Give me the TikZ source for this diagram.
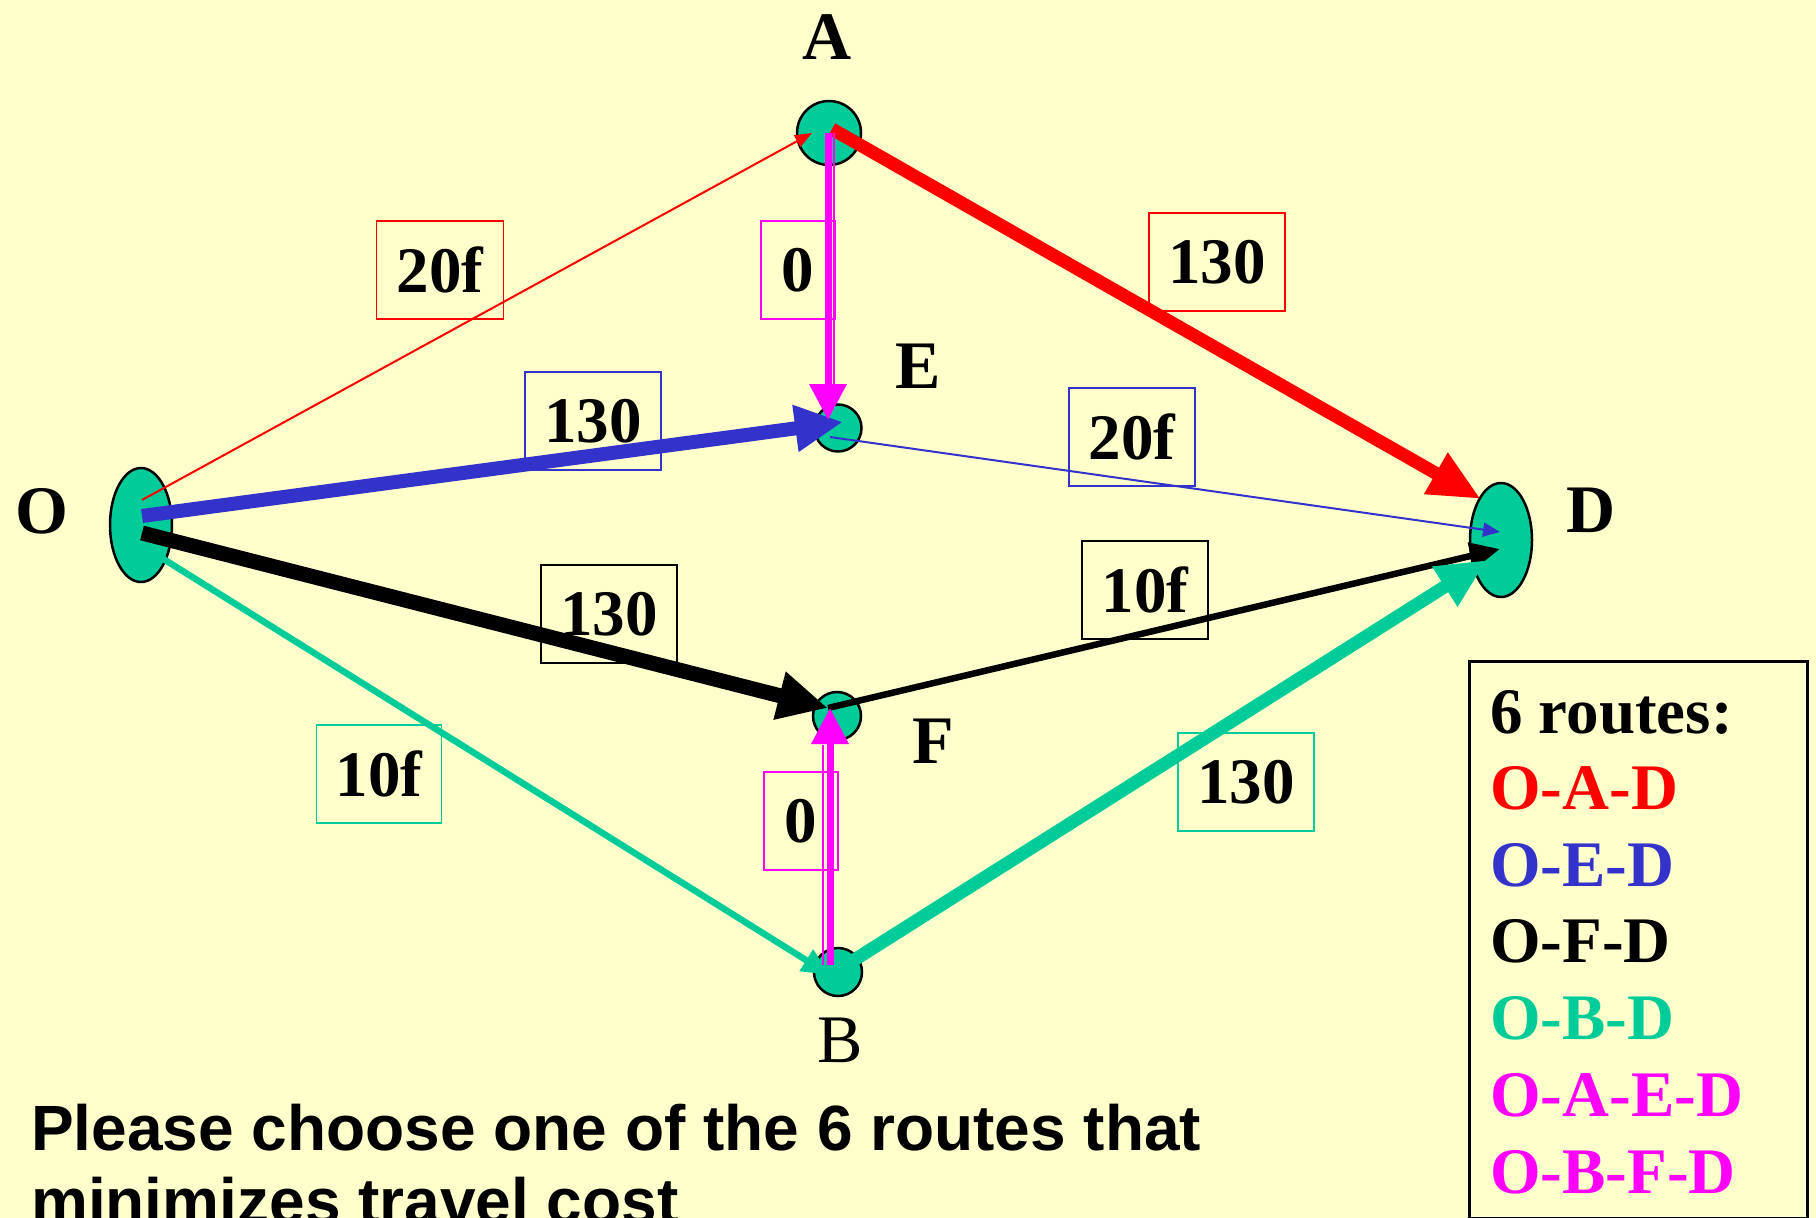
\documentclass[tikz,border=0pt]{standalone}
\usepackage{fontspec}
\setmainfont{Liberation Serif}
\newfontfamily\arialf{Liberation Sans}
\usetikzlibrary{arrows.meta,shapes.geometric,calc}
\definecolor{bgc}{HTML}{FFFFCC}
\definecolor{tealc}{HTML}{00CC99}
\definecolor{bluec}{HTML}{3333CC}
\definecolor{magc}{HTML}{FF00FF}
\definecolor{redc}{HTML}{FF0000}
\begin{document}
\begin{tikzpicture}[x=1pt,y=-1pt,
  vtx/.style={circle, draw=black, line width=2.5pt, fill=tealc, inner sep=0pt},
  vtxe/.style={ellipse, draw=black, line width=2.5pt, fill=tealc, inner sep=0pt, minimum width=62pt, minimum height=114pt},
  nlab/.style={font=\fontsize{68}{80}\selectfont\bfseries, inner sep=0pt},
  elab/.style={draw=#1, line width=1.8pt, minimum height=98pt, inner sep=0pt, font=\fontsize{65}{76}\selectfont\bfseries},
  leg/.style={anchor=base west, inner sep=0pt, font=\fontsize{65}{76}\selectfont\bfseries},
  btxt/.style={anchor=base west, inner sep=0pt, font=\arialf\fontsize{64}{73}\selectfont\bfseries}
]
\useasboundingbox (0,0) rectangle (1816,1218);
\fill[bgc] (0,0) rectangle (1816,1218);

% vertices
\node[vtxe] (O) at (141,525) {};
\node[vtxe] (D) at (1501,540) {};
\node[vtx, minimum size=64pt] (A) at (829,133) {};
\node[vtx, minimum size=47pt] (E) at (838,428) {};
\node[vtx, minimum size=48pt] (F) at (837,716) {};
\node[vtx, minimum size=48pt] (B) at (838,972) {};

% vertex labels
\node[nlab] (lA) at (827,37) {A};
\node[nlab] (lE) at (918,366) {E};
\node[nlab] (lO) at (42,511) {O};
\node[nlab] (lD) at (1591,510) {D};
\node[nlab] (lF) at (933,741) {F};
\node[inner sep=0pt, font=\fontsize{68}{80}\selectfont] (lB) at (840,1040) {B};

% edge cost boxes
\node[elab=redc, minimum width=127pt] (c1) at (440,270) {20f};
\node[elab=magc, minimum width=74pt] (c2) at (798,270) {0};
\node[elab=redc, minimum width=136pt] (c3) at (1217,262) {130};
\node[elab=bluec, minimum width=136pt] (c4) at (593,421) {130};
\node[elab=bluec, minimum width=126pt] (c5) at (1132,437) {20f};
\node[elab=black, minimum width=136pt] (c6) at (609,614) {130};
\node[elab=black, minimum width=126pt] (c7) at (1145,590) {10f};
\node[elab=tealc, minimum width=125pt] (c8) at (379,774) {10f};
\node[elab=magc, minimum width=74pt] (c9) at (801,821) {0};
\node[elab=tealc, minimum width=136pt] (c10) at (1246,782) {130};

% edges
\draw[line width=2pt, redc, -{Triangle[length=17pt,width=13pt]}] ($(O)+(1,-25)$) -- ($(A)+(-17,0)$);
\draw[line width=13pt, redc, -{Triangle[length=52pt,width=44pt]}] ($(A)+(3,-4)$) -- ($(D)+(-20,-41)$);
\draw[line width=14pt, bluec, -{Triangle[length=48pt,width=44pt]}] ($(O)+(1,-9)$) -- ($(E)+(5,-6)$);
\draw[line width=2pt, bluec, -{Triangle[length=17pt,width=14pt]}] ($(E)+(-8,9)$) -- ($(D)+(-1,-8)$);
\draw[line width=6.5pt, black, -{Triangle[length=30pt,width=26pt]}] ($(F)+(-9,-8)$) -- ($(D)+(-1,9)$);
\draw[line width=15pt, black, -{Triangle[length=50pt,width=46pt]}] ($(O)+(1,8)$) -- ($(F)+(-9,-8)$);
\draw[line width=6.5pt, tealc, -{Triangle[length=28pt,width=24pt]}] ($(O)+(0,20)$) -- ($(B)+(-8,3)$);
\draw[line width=13pt, tealc, -{Triangle[length=50pt,width=44pt]}] ($(B)+(5,-5)$) -- ($(D)+(-14,20)$);
% magenta double lines
\draw[line width=7pt, magc, -{Triangle[length=36pt,width=36pt]}] ($(A)+(-1,0)$) -- ($(E)+(-10,-8)$);
\draw[line width=2pt, magc] ($(A)+(5,0)$) -- ($(E)+(-4,-43)$);
\draw[line width=7pt, magc, -{Triangle[length=36pt,width=36pt]}] ($(B)+(-8,-7)$) -- ($(F)+(-7,-8)$);
\draw[line width=2pt, magc] ($(B)+(-15,-7)$) -- ($(F)+(-14,29)$);

% legend
\node[draw=black, line width=2.5pt, fill=bgc, anchor=north west, minimum width=338pt, minimum height=557pt, inner sep=0pt] (legend) at (1468,660) {};
\node[leg] (g0) at (1490,733) {6 routes:};
\node[leg, text=redc] (g1) at (1490,809) {O-A-D};
\node[leg, text=bluec] (g2) at (1490,886) {O-E-D};
\node[leg, text=black] (g3) at (1490,962) {O-F-D};
\node[leg, text=tealc] (g4) at (1490,1039) {O-B-D};
\node[leg, text=magc] (g5) at (1490,1116) {O-A-E-D};
\node[leg, text=magc] (g6) at (1490,1193) {O-B-F-D};

% bottom text
\node[btxt] (t1) at (31,1150) {Please choose one of the 6 routes that};
\node[btxt] (t2) at (31,1223) {minimizes travel cost};
\end{tikzpicture}
\end{document}
